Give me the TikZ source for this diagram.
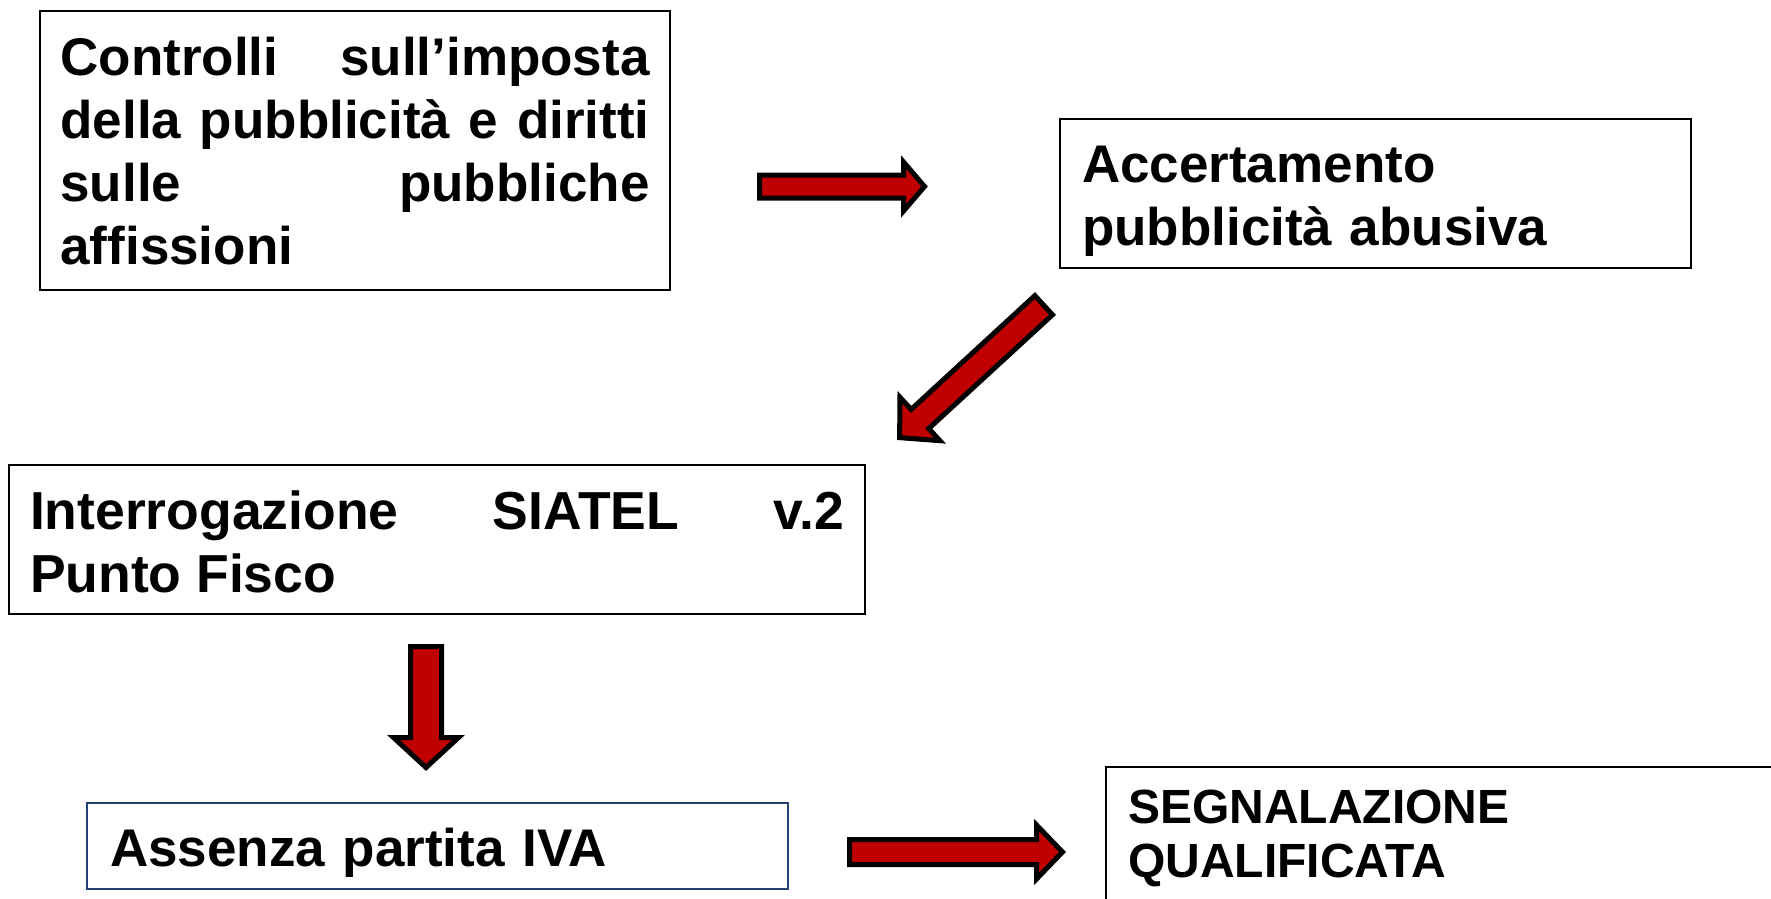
\documentclass[tikz,border=0pt]{standalone}
\usepackage{fontspec}
\setmainfont{Liberation Sans}
\definecolor{arrred}{HTML}{C00000}
\definecolor{navyline}{HTML}{243F73}
\newcommand\padtext[3]{\tolerance=10000\relax\hyphenpenalty=10000\relax\rule{0pt}{#1pt}#3\rule[-#2pt]{0pt}{#2pt}}
\newcommand\barrow[7]{%
  \begin{scope}[shift={(#1,#2)}, rotate=#3]
    \draw[blockarrow] (2.5,{#5-2.5}) -- ({#4-#7+2.5},{#5-2.5}) -- ({#4-#7+2.5},{#6-3.5})
      -- ({#4-3.5},0) -- ({#4-#7+2.5},{-(#6-3.5)}) -- ({#4-#7+2.5},{-(#5-2.5)})
      -- (2.5,{-(#5-2.5)}) -- cycle;
  \end{scope}}
\tikzset{
  box/.style={draw=black, line width=2.5pt, fill=white, inner xsep=20pt, inner ysep=0pt,
    anchor=north west, outer sep=0pt,
    font=\fontsize{53}{63}\selectfont\bfseries},
  blockarrow/.style={draw=black, fill=arrred, line width=5pt, line join=miter}
}
\begin{document}
\begin{tikzpicture}[x=1pt,y=-1pt]
\useasboundingbox (0,0) rectangle (1771,898);
\fill[white] (0,0) rectangle (1771,898);
\clip (0,0) rectangle (1771,898);

\node[box, minimum width=630pt, minimum height=279pt, text width=589pt, align=justify] (b1) at (40,11)
  {\padtext{50}{12}{Controlli sull’imposta\linebreak della pubblicità e diritti\linebreak sulle pubbliche\linebreak affissioni}};

\node[box, minimum width=631pt, minimum height=149pt, inner xsep=22pt, text width=587pt, align=left] (b2) at (1060,119)
  {\padtext{52}{11}{Accertamento\newline pubblicità abusiva}};

\node[box, minimum width=856pt, minimum height=149pt, inner xsep=21pt, text width=814pt, align=justify,
  font=\fontsize{53.5}{63}\selectfont\bfseries] (b3) at (9,465)
  {\padtext{54}{12}{Interrogazione SIATEL v.2\linebreak Punto Fisco}};

\node[box, draw=navyline, minimum width=701pt, minimum height=86pt, inner xsep=23pt, text width=655pt, align=left] (b4) at (87,803)
  {\padtext{52}{12}{Assenza partita IVA}};

\node[box, minimum width=720pt, minimum height=180pt, inner xsep=22pt, text width=676pt, align=left,
  font=\fontsize{48}{54}\selectfont\bfseries] (b5) at (1106,767)
  {\padtext{42}{56}{SEGNALAZIONE\newline QUALIFICATA}};

\barrow{757}{186.5}{0}{171}{14}{28}{27}
\barrow{1045.5}{303.5}{222.6}{201.7}{15.5}{33}{33.6}
\barrow{426}{644}{-90}{127}{18}{36}{36}
\barrow{847}{852}{0}{219}{15}{30.5}{32}
\end{tikzpicture}
\end{document}
